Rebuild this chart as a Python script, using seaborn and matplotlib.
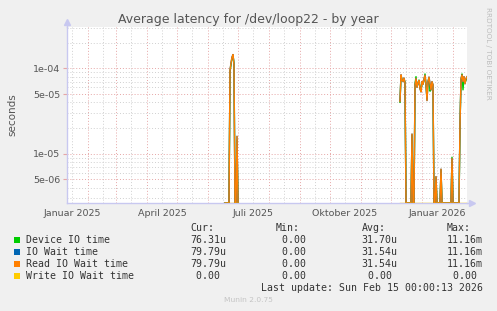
import numpy as np
import pandas as pd
import matplotlib
matplotlib.use("Agg")
import matplotlib.pyplot as plt
from matplotlib.patches import Rectangle
from matplotlib.ticker import FixedLocator, NullLocator
import seaborn as sns

# ------------------------------------------------------------------ data
series_names = ["Device IO time", "IO Wait time", "Read IO Wait time", "Write IO Wait time"]
series_colors = ["#00CC00", "#0066B3", "#FF8000", "#FFCC00"]

window1_start = "2025-06-18"
window2_start = "2025-12-10"

# daily average latency in seconds (0 = idle)
device_w1 = [0, 0, 0, 0, 0, 9.0e-5, 1.10e-4, 1.30e-4, 1.42e-4, 1.15e-4, 0, 0, 1.45e-5, 0]
iowait_w1 = [0, 0, 0, 0, 0, 9.5e-5, 1.15e-4, 1.35e-4, 1.45e-4, 1.10e-4, 0, 0, 1.6e-5, 0]
read_w1 = [0, 0, 0, 0, 0, 9.5e-5, 1.15e-4, 1.35e-4, 1.45e-4, 1.10e-4, 0, 0, 1.6e-5, 0]
write_w1 = [0, 0, 0, 0, 0, 0, 0, 0, 0, 0, 0, 0, 0, 0]

device_w2 = [4.0e-5, 8.2e-5, 7.4e-5, 7.1e-5, 7.5e-5, 6.9e-5,
             0, 0, 0, 0, 0, 0,
             1.65e-5, 0, 0,
             6.5e-5, 8.0e-5, 6.1e-5, 6.6e-5, 7.3e-5, 6.0e-5, 5.4e-5, 6.8e-5, 6.6e-5, 7.2e-5,
             8.6e-5, 6.4e-5, 4.4e-5, 6.9e-5, 7.6e-5, 5.4e-5, 5.7e-5, 6.8e-5, 6.3e-5,
             0, 0, 5.2e-6, 0, 0, 0, 0, 6.4e-6,
             0, 0, 0, 0, 0, 0, 0, 0, 0, 0,
             9.1e-6, 0, 0, 0, 0, 0, 0, 0,
             2.1e-5, 7.3e-5, 8.6e-5, 5.6e-5, 7.8e-5, 6.8e-5, 7.3e-5, 7.631e-5]
iowait_w2 = [4.1e-5, 8.4e-5, 7.3e-5, 7.0e-5, 7.7e-5, 6.8e-5,
             0, 0, 0, 0, 0, 0,
             1.7e-5, 0, 0,
             6.3e-5, 7.6e-5, 6.0e-5, 6.8e-5, 7.2e-5, 5.8e-5, 5.3e-5, 7.0e-5, 6.5e-5, 7.4e-5,
             8.3e-5, 6.5e-5, 4.2e-5, 7.0e-5, 7.9e-5, 6.6e-5, 5.6e-5, 7.0e-5, 6.4e-5,
             0, 0, 5.4e-6, 0, 0, 0, 0, 6.6e-6,
             0, 0, 0, 0, 0, 0, 0, 0, 0, 0,
             8.8e-6, 0, 0, 0, 0, 0, 0, 0,
             2.2e-5, 7.5e-5, 8.4e-5, 7.0e-5, 8.0e-5, 6.6e-5, 7.6e-5, 7.979e-5]
read_w2 = list(iowait_w2)
write_w2 = [0] * 68

x_start = "2025-01-11"
x_end = "2026-02-15"
y_limits = (2.65e-6, 3.05e-4)

y_major = [5e-6, 1e-5, 5e-5, 1e-4]
y_major_labels = ["5e-06", "1e-05", "5e-05", "1e-04"]
x_label_dates = ["2025-01-16", "2025-04-16", "2025-07-16", "2025-10-16", "2026-01-16"]
x_labels = ["Januar 2025", "April 2025", "Juli 2025", "Oktober 2025", "Januar 2026"]

legend_cur = ["76.31u", "79.79u", "79.79u", " 0.00 "]
legend_min = [" 0.00 ", " 0.00 ", " 0.00 ", " 0.00 "]
legend_avg = ["31.70u", "31.54u", "31.54u", " 0.00 "]
legend_max = ["11.16m", "11.16m", "11.16m", " 0.00 "]

# ------------------------------------------------------------------ table
rows = []
windows = {
    "w1": (window1_start, [device_w1, iowait_w1, read_w1, write_w1]),
    "w2": (window2_start, [device_w2, iowait_w2, read_w2, write_w2]),
}
for seg, (start, lists) in windows.items():
    for name, vals in zip(series_names, lists):
        dates = pd.date_range(start, periods=len(vals), freq="D")
        for d, v in zip(dates, vals):
            rows.append({"date": d, "value": v, "series": name, "segment": seg})
df = pd.DataFrame(rows)
# zero values are drawn on the floor of the log axis (as rrdtool does)
df["plot_value"] = np.maximum(df["value"], y_limits[0])

# ------------------------------------------------------------------ figure
W, H = 497, 311
fig = plt.figure(figsize=(W / 100, H / 100), dpi=100, facecolor="#F0F0F0")
ax = fig.add_axes([67 / W, 1 - 203 / H, 400 / W, 176 / H])
ax.set_facecolor("white")
ax.set_yscale("log")

red = "#E6A6A6"
gray = "#D0D0D0"
dots = (0, (1, 2))

x0, x1 = pd.Timestamp(x_start), pd.Timestamp(x_end)
# vertical grid
for d in pd.date_range(x0, x1, freq="MS"):
    ax.axvline(d, color=red, lw=0.7, ls=dots, zorder=1)
    mid = d + pd.Timedelta(days=15)
    if mid < x1:
        ax.axvline(mid, color=gray, lw=0.7, ls=dots, zorder=1)
first_mid = pd.Timestamp("2025-01-16")
ax.axvline(first_mid, color=gray, lw=0.7, ls=dots, zorder=1)
# horizontal grid
for dec in [1e-6, 1e-5, 1e-4]:
    for m in range(1, 10):
        v = m * dec
        if y_limits[0] < v < y_limits[1]:
            if m in (1, 5):
                ax.axhline(v, color=red, lw=0.7, ls=dots, zorder=1)
            else:
                ax.axhline(v, color=gray, lw=0.7, ls=dots, zorder=1)

sns.lineplot(data=df, x="date", y="plot_value", hue="series", hue_order=series_names,
             palette=dict(zip(series_names, series_colors)), units="segment",
             estimator=None, sort=False, linewidth=1.0, legend=False, ax=ax, zorder=3)

ax.set_xlim(x0, x1)
ax.set_ylim(*y_limits)

ax.yaxis.set_major_locator(FixedLocator(y_major))
ax.yaxis.set_minor_locator(NullLocator())
ax.set_yticklabels(y_major_labels)
ax.xaxis.set_major_locator(FixedLocator([pd.Timestamp(d).toordinal() - pd.Timestamp("1970-01-01").toordinal() for d in x_label_dates]))
ax.xaxis.set_minor_locator(NullLocator())
ax.set_xticklabels(x_labels)
ax.tick_params(axis="y", length=3, color=red, labelsize=6.8, labelcolor="#555555", pad=2)
ax.tick_params(axis="x", length=0, labelsize=6.8, labelcolor="#555555", pad=4)
ax.set_xlabel("")
ax.set_ylabel("seconds", fontsize=7.5, color="#555555", labelpad=11)

for s in ["top", "right"]:
    ax.spines[s].set_visible(False)
axis_col = "#C8C8F0"
for s in ["left", "bottom"]:
    ax.spines[s].set_color(axis_col)
    ax.spines[s].set_linewidth(1.0)
ax.plot([0, 0], [1.0, 1.025], transform=ax.transAxes, color=axis_col, lw=1, clip_on=False)
ax.plot([0], [1.03], marker="^", ms=4, color=axis_col, transform=ax.transAxes, clip_on=False)
ax.plot([1.0, 1.01], [0, 0], transform=ax.transAxes, color=axis_col, lw=1, clip_on=False)
ax.plot([1.012], [0], marker=">", ms=4, color=axis_col, transform=ax.transAxes, clip_on=False)

# ------------------------------------------------------------------ texts
def px(x, y):
    return x / W, 1 - y / H

fig.text(*px(248.5, 19), "Average latency for /dev/loop22 - by year", ha="center", va="center",
         fontsize=9.0, color="#555555")
fig.text(*px(488, 53), "RRDTOOL / TOBI OETIKER", ha="center", va="center", rotation=-90,
         fontsize=5.2, color="#BDBDBD")

mono = dict(family="DejaVu Sans Mono", fontsize=7.1, color="#333333", va="center", ha="left")
col_x = [190, 275.7, 361.7, 446.7]
for cx, h in zip(col_x, ["Cur:", "Min:", "Avg:", "Max:"]):
    fig.text(*px(cx, 227.7), h, **mono)
row_y = [240, 252, 263.8, 275.7]
for i, name in enumerate(series_names):
    y = row_y[i]
    fig.add_artist(Rectangle(px(14, y + 3), 6 / W, 6 / H, transform=fig.transFigure,
                             facecolor=series_colors[i], edgecolor="none"))
    fig.text(*px(26, y), name, **mono)
    for cx, col in zip(col_x, [legend_cur, legend_min, legend_avg, legend_max]):
        fig.text(*px(cx, y), col[i], **mono)
fig.text(*px(482.7, 287.7), "Last update: Sun Feb 15 00:00:13 2026",
         **{**mono, "ha": "right"})
fig.text(*px(248, 300), "Munin 2.0.75", ha="center", va="center", fontsize=5.4, color="#C4C4C4")

fig.savefig("out.png", dpi=100, facecolor=fig.get_facecolor())
